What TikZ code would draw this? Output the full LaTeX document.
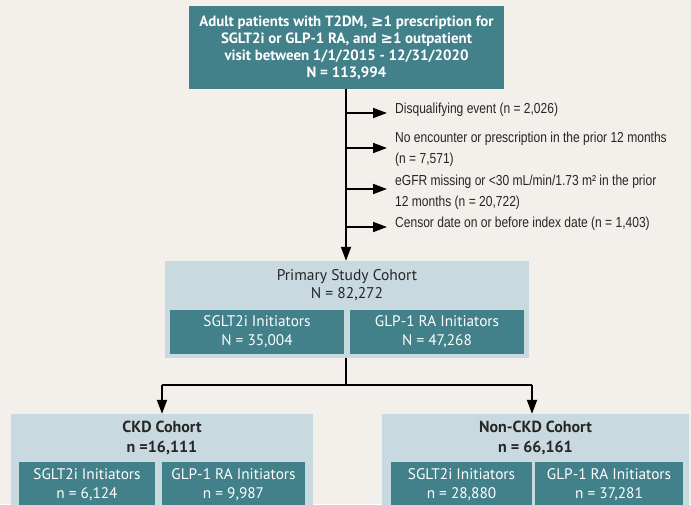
\documentclass[tikz,border=0pt]{standalone}
\usepackage{fontspec}
\setmainfont{PT Sans}
\newfontfamily\narrowf[FakeStretch=0.83]{Liberation Sans}
\newfontfamily\symf{DejaVu Sans}
\newcommand{\gesign}{{\symf\bfseries ≥}}
\usetikzlibrary{arrows.meta}
\definecolor{bgc}{RGB}{243,239,234}
\definecolor{tealbox}{RGB}{66,128,138}
\definecolor{lightbox}{RGB}{200,218,224}
\tikzset{
  darkbox/.style={fill=tealbox, text=white, inner sep=0pt, align=center, font=\fontsize{15.3}{18.5}\selectfont},
  palebox/.style={fill=lightbox, inner sep=0pt},
  ttl/.style={inner sep=0pt, align=center, text=black!85, font=\fontsize{15.5}{18.5}\selectfont},
  excl/.style={inner sep=0pt, anchor=north west, align=left, text=black!85, font=\narrowf\fontsize{14.5}{21}\selectfont},
  flow/.style={line width=1.8pt, -{Triangle[length=14pt,width=10pt]}},
  plain/.style={line width=1.8pt}
}
\begin{document}
\begin{tikzpicture}[x=1pt,y=-1pt]
\useasboundingbox[fill=bgc] (0,0) rectangle (691,504);
\begin{scope}
\clip (0,0) rectangle (691,504);
% top box
\node[darkbox, minimum width=315pt, minimum height=83pt, font=\bfseries\fontsize{14.9}{17}\selectfont] (top) at (346.5,47.5)
  {Adult patients with T2DM, \gesign1 prescription for\\SGLT2i or GLP-1 RA, and \gesign1 outpatient\\visit between 1/1/2015 - 12/31/2020\\N = 113,994};
% primary cohort
\node[palebox, minimum width=364pt, minimum height=97pt] (prim) at (347,309.5) {};
\node[ttl] (primT) at (347,285) {Primary Study Cohort\\N = 82,272};
\node[darkbox, minimum width=174pt, minimum height=44pt] (primS) at (257,331.5) {SGLT2i Initiators\\N = 35,004};
\node[darkbox, minimum width=174pt, minimum height=44pt] (primG) at (437,331.5) {GLP-1 RA Initiators\\N = 47,268};
% CKD cohort
\node[palebox, minimum width=302pt, minimum height=110pt] (ckd) at (162,469) {};
\node[ttl, font=\bfseries\fontsize{16}{20}\selectfont] (ckdT) at (162,438) {CKD Cohort\\n =16,111};
\node[darkbox, minimum width=136pt, minimum height=56pt] (ckdS) at (87,490) {};
\node[darkbox, anchor=north] (ckdSt) at (87,468.5) {SGLT2i Initiators\\n = 6,124};
\node[darkbox, minimum width=143pt, minimum height=56pt] (ckdG) at (233.5,490) {};
\node[darkbox, anchor=north] (ckdGt) at (233.5,468.5) {GLP-1 RA Initiators\\n = 9,987};
% non-CKD cohort
\node[palebox, minimum width=307pt, minimum height=110pt] (non) at (535.5,469) {};
\node[ttl, font=\bfseries\fontsize{16}{20}\selectfont] (nonT) at (535.5,438) {Non-CKD Cohort\\n = 66,161};
\node[darkbox, minimum width=141pt, minimum height=56pt] (nonS) at (461.5,490) {};
\node[darkbox, anchor=north] (nonSt) at (461.5,468.5) {SGLT2i Initiators\\n = 28,880};
\node[darkbox, minimum width=148pt, minimum height=56pt] (nonG) at (609,490) {};
\node[darkbox, anchor=north] (nonGt) at (609,468.5) {GLP-1 RA Initiators\\n = 37,281};
% exclusions
\node[excl] (e1) at (395,103) {Disqualifying event (n = 2,026)};
\node[excl] (e2) at (395,132) {No encounter or prescription in the prior 12 months\\(n = 7,571)};
\node[excl] (e3) at (395,175) {eGFR missing or <30 mL/min/1.73 m² in the prior\\12 months (n = 20,722)};
\node[excl] (e4) at (395,217) {Censor date on or before index date (n = 1,403)};
\coordinate (a1) at (346,113); \coordinate (b1) at (387,113);
\coordinate (a2) at (346,148); \coordinate (b2) at (387,148);
\coordinate (a3) at (346,189); \coordinate (b3) at (387,189);
\coordinate (a4) at (346,227); \coordinate (b4) at (387,227);
\draw[flow] (top.south -| a1) -- (prim.north -| a1);
\draw[flow] (a1) -- (b1);
\draw[flow] (a2) -- (b2);
\draw[flow] (a3) -- (b3);
\draw[flow] (a4) -- (b4);
% split
\coordinate (sp) at (346,385);
\coordinate (spL) at (162,385);
\coordinate (spR) at (532,385);
\draw[plain] (prim.south -| sp) -- (sp);
\draw[plain] (spL) -- (spR);
\draw[flow] (spL) -- (ckd.north -| spL);
\draw[flow] (spR) -- (non.north -| spR);
\end{scope}
\end{tikzpicture}
\end{document}
